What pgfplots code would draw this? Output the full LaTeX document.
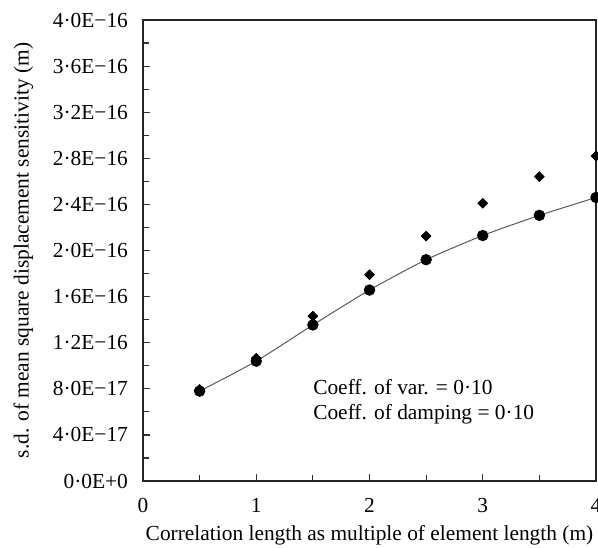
\documentclass[border=0pt]{standalone}
\usepackage{fontspec}
\setmainfont{Liberation Serif}
\usepackage{pgfplots}
\pgfplotsset{compat=1.18}
\begin{document}
\begin{tikzpicture}
\begin{axis}[
  name=ax,
  width=226.5pt, height=230.5pt,
  scale only axis,
  xmin=0, xmax=4, ymin=0, ymax=4e-16,
  axis line style={line width=0.9pt, black!85},
  tick align=inside,
  xtick pos=bottom, ytick pos=left,
  xtick={0,1,2,3,4},
  xticklabels={0,1,2,3,4},
  minor xtick={0.5,1.5,2.5,3.5},
  ytick={0,4e-17,8e-17,1.2e-16,1.6e-16,2e-16,2.4e-16,2.8e-16,3.2e-16,3.6e-16,4e-16},
  yticklabels={0·0E+0,4·0E−17,8·0E−17,1·2E−16,1·6E−16,2·0E−16,2·4E−16,2·8E−16,3·2E−16,3·6E−16,4·0E−16},
  minor ytick={2e-17,6e-17,1e-16,1.4e-16,1.8e-16,2.2e-16,2.6e-16,3e-16,3.4e-16,3.8e-16},
  major tick length=3.5pt, minor tick length=3pt,
  tick style={line width=0.6pt, black!80},
  ticklabel style={font=\fontsize{10.7}{12.5}\selectfont},
  yticklabel style={xshift=-4pt},
  xticklabel style={yshift=-5pt},
  scaled y ticks=false,
  xlabel={Correlation length as multiple of element length (m)},
  ylabel={s.d. of mean square displacement sensitivity (m)},
  label style={font=\fontsize{10.7}{12.5}\selectfont},
  xlabel style={yshift=0.5pt},
  ylabel style={yshift=3pt},
  clip=false,
]
\addplot[gray!70!black, line width=0.5pt, smooth, tension=0.4, mark=*, mark size=2.6pt, mark options={black, fill=black}]
  coordinates {(0.5,7.8e-17) (1,1.04e-16) (1.5,1.354e-16) (2,1.657e-16) (2.5,1.92e-16) (3,2.13e-16) (3.5,2.305e-16) (4,2.46e-16)};
\addplot[only marks, mark=square*, mark size=1.7pt, mark options={rotate=45}, black]
  coordinates {(0.5,7.95e-17) (1,1.065e-16) (1.5,1.43e-16) (2,1.79e-16) (2.5,2.125e-16) (3,2.41e-16) (3.5,2.64e-16) (4,2.82e-16)};
\node[anchor=west, font=\fontsize{10.7}{12.5}\selectfont, inner sep=0pt] at (axis cs:1.50,8.16e-17) {Coeff. of var. = 0·10};
\node[anchor=west, font=\fontsize{10.7}{12.5}\selectfont, inner sep=0pt] at (axis cs:1.50,5.8e-17) {Coeff. of damping = 0·10};
\end{axis}
\pgfresetboundingbox
\path ([shift={(-71.5pt,-33pt)}]ax.south west) rectangle ([shift={(1pt,10pt)}]ax.north east);
\end{tikzpicture}
\end{document}
